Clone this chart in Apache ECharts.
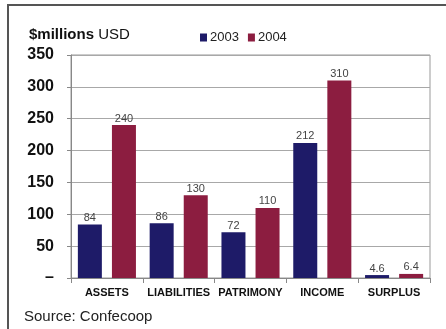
<!DOCTYPE html>
<html>
<head>
<meta charset="utf-8">
<script src="https://cdn.jsdelivr.net/npm/echarts@6/dist/echarts.min.js"></script>
<style>
  html, body { margin: 0; padding: 0; background: #fff; }
  #chart { width: 446px; height: 329px; }
</style>
</head>
<body>
<div id="chart"></div>
<script>
// data
var categories = ['ASSETS', 'LIABILITIES', 'PATRIMONY', 'INCOME', 'SURPLUS'];
var values2003 = [84, 86, 72, 212, 4.6];
var values2004 = [240, 130, 110, 310, 6.4];
var seriesNames = ['2003', '2004'];

var myChart = echarts.init(document.getElementById('chart'));
var font = 'Liberation Sans, Arial, sans-serif';

var option = {
    backgroundColor: '#fff',
    animation: false,
    textStyle: { fontFamily: font },
    title: {
        text: '{b|$millions} USD',
        left: 24,
        top: 22,
        textStyle: {
            fontSize: 15,
            fontWeight: 'normal',
            color: '#111',
            fontFamily: font,
            rich: {
                b: { fontSize: 15, fontWeight: 'bold', color: '#111', fontFamily: font }
            }
        }
    },
    legend: {
        data: seriesNames,
        icon: 'rect',
        left: 195,
        top: 26,
        itemWidth: 7,
        itemHeight: 8,
        itemGap: 9,
        textStyle: { fontSize: 13, color: '#222', padding: [0, 0, 0, -2] }
    },
    grid: {
        left: 71,
        right: 16,
        top: 55,
        bottom: 51,
        show: true,
        borderColor: '#999',
        borderWidth: 1,
        backgroundColor: '#fff'
    },
    xAxis: {
        type: 'category',
        data: categories,
        axisLine: { lineStyle: { color: '#888' } },
        axisTick: { show: true, lineStyle: { color: '#888' } },
        axisLabel: {
            fontSize: 11,
            fontWeight: 'bold',
            color: '#111',
            margin: 9,
            interval: 0
        }
    },
    yAxis: {
        type: 'value',
        min: 0,
        max: 350,
        interval: 50,
        axisLine: { show: true, lineStyle: { color: '#888' } },
        axisTick: { show: true, length: 4, lineStyle: { color: '#888' } },
        splitLine: { lineStyle: { color: '#a8a8a8', width: 1 } },
        axisLabel: {
            fontSize: 16,
            fontWeight: 'bold',
            color: '#111',
            margin: 17,
            formatter: function (v) { return v === 0 ? '–' : v; }
        }
    },
    series: [{
        name: seriesNames[0],
        type: 'bar',
        data: values2003,
        barWidth: 24,
        barGap: '42%',
        itemStyle: { color: '#1e1b68' },
        label: { show: true, position: 'top', fontSize: 11, color: '#444', distance: 1 }
    }, {
        name: seriesNames[1],
        type: 'bar',
        data: values2004,
        barWidth: 24,
        itemStyle: { color: '#8c1d40' },
        label: { show: true, position: 'top', fontSize: 11, color: '#444', distance: 1 }
    }],
    graphic: [{
        type: 'polyline',
        shape: { points: [[8, 329], [8, 5], [446, 5]] },
        style: { stroke: '#555', lineWidth: 2, fill: null }
    }, {
        type: 'text',
        left: 24,
        top: 309,
        style: { text: 'Source: Confecoop', fontSize: 15, fill: '#222', fontFamily: font }
    }]
};
myChart.setOption(option);
</script>
</body>
</html>
